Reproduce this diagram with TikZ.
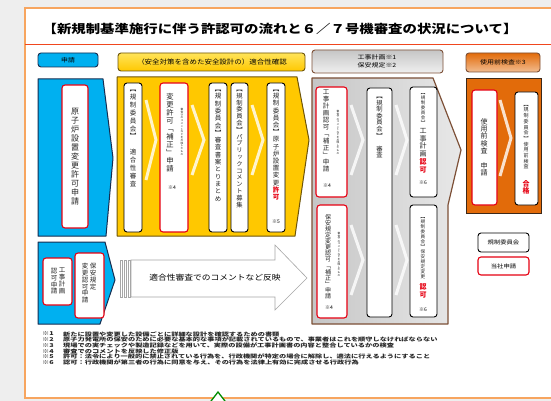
\documentclass[tikz,border=0pt]{standalone}
\usepackage{fontspec}
\usepackage{graphicx}
\setmainfont{Noto Sans CJK JP}
\newfontfamily\vfont[RawFeature=+vert]{Noto Sans CJK JP}
\definecolor{cblue}{RGB}{0,176,240}
\definecolor{cnavy}{RGB}{23,45,80}
\definecolor{cyel}{RGB}{255,200,0}
\definecolor{cyel2}{RGB}{255,228,90}
\definecolor{cyelb}{RGB}{110,85,10}
\definecolor{cbrown}{RGB}{125,80,55}
\definecolor{corange}{RGB}{226,107,10}
\definecolor{corb}{RGB}{60,40,25}
\definecolor{cframe}{RGB}{247,165,95}
\definecolor{ctitle}{RGB}{240,70,30}
\definecolor{vred}{RGB}{230,0,18}
\definecolor{cbg}{RGB}{238,238,238}
\def\vtend{\vtend}
\def\vtred{\vtred}
\def\vtfmt{}
\newcommand\vtext[2][1.1em]{\vbox{\baselineskip=#1\relax\lineskiplimit=-100pt\lineskip=0pt\vtA#2\vtend}}
\def\vtA#1{\ifx#1\vtend\else\ifx#1\vtred\def\vtfmt{\color{vred}\bfseries}\else\hbox to 1.2em{\hss\vtfmt#1\hss}\fi\expandafter\vtA\fi}
\newcommand\fs[1]{\fontsize{#1}{#1}\selectfont}
\newcommand\hs[2][1.15]{\scalebox{#1}[1]{#2}}
\begin{document}
\begin{tikzpicture}[x=1pt,y=-1pt,
  wbox/.style={draw=black, line width=0.9pt, fill=white, rounded corners=3pt},
  rbox/.style={draw=vred, line width=1.1pt, fill=white, rounded corners=3pt},
  vt/.style={inner sep=0pt, anchor=north, text=black!85},
  chev/.style={draw=white, line width=3pt, opacity=0.8, line join=miter},
  fn/.style={inner sep=0pt, anchor=west, font=\bfseries\fs{5.3}, text=black!85},
  hdr/.style={rounded corners=3pt, line width=0.9pt}]
\useasboundingbox (0,0) rectangle (551,401);
\clip (0,0) rectangle (551,401);
\fill[cbg] (0,0) rectangle (551,401);
\draw[cframe, fill=white, line width=1.5pt] (25,8) rectangle (580,398);
\draw[ctitle, line width=1pt] (25,45) -- (560,45);
\node[inner sep=0pt, font=\bfseries\fs{12}] (title) at (280,29) {\hs[1.2]{【新規制基準施行に伴う許認可の流れと６／７号機審査の状況について】}};

% headers
\draw[hdr, draw=cnavy, fill=cblue] (38,53) rectangle (98,67);
\node[font=\fs{6}, inner sep=0pt] (hA) at (68,60) {\hs{申請}};
\draw[hdr, draw=cyelb, top color=cyel2, bottom color=cyel] (118,53) rectangle (305,71);
\node[font=\fs{6.5}, inner sep=0pt] (hB) at (212,62) {\hs{（安全対策を含めた安全設計の）適合性確認}};
\draw[hdr, draw=cbrown, top color=gray!45, bottom color=gray!12] (312,50) rectangle (443,73);
\node[font=\fs{5.8}, inner sep=0pt] (hC1) at (377,57) {\hs[1.2]{工事計画※1}};
\node[font=\fs{5.8}, inner sep=0pt] (hC2) at (377,65) {\hs[1.2]{保安規定※2}};
\draw[hdr, draw=cbrown, top color=corange, bottom color=corange!45] (466,53) rectangle (540,72);
\node[font=\fs{5.8}, inner sep=0pt] (hD) at (503,62) {\hs[1.2]{使用前検査※3}};

% panels
\draw[draw=cnavy, fill=cblue, line width=1pt, line join=round] (38,79) -- (103,79) -- (113,158) -- (106,236) -- (38,236) -- cycle;
\draw[draw=cyelb, fill=cyel, line width=1pt, line join=round] (117,77) -- (297,77) -- (309,140) -- (295,236) -- (117,236) -- cycle;
\draw[draw=cbrown, left color=gray!45, right color=gray!18, line width=1.2pt, line join=round] (312,78) -- (433,78) -- (461,150) -- (448,205) -- (448,324) -- (312,324) -- cycle;
\draw[draw=corb, fill=corange, line width=1pt] (466,79) rectangle (541,213);
\draw[draw=cnavy, fill=cblue, line width=1pt, line join=round] (38,242) -- (105,242) -- (115,280) -- (100,324) -- (38,324) -- cycle;

% white chevrons
\draw[chev] (146,100) -- (156,140) -- (146,180);
\draw[chev] (192,105) -- (204,140) -- (192,175);
\draw[chev] (252,105) -- (263,140) -- (252,175);
\draw[chev] (351,105) -- (363,140) -- (351,175);
\draw[chev] (396,105) -- (407,140) -- (396,175);
\draw[chev] (351,225) -- (363,260) -- (351,295);
\draw[chev] (396,225) -- (407,260) -- (396,295);
\draw[chev] (500,100) -- (511,138) -- (500,176);

% boxes
\draw[rbox] (62,85) rectangle (88,228);
\draw[wbox] (124,83) rectangle (142,232);
\draw[rbox] (160,83) rectangle (188,232);
\draw[wbox] (209,83) rectangle (227,232);
\draw[wbox] (231,83) rectangle (248,232);
\draw[wbox] (267,83) rectangle (285,232);
\draw[rbox] (316,87) rectangle (347,197);
\draw[wbox] (367,88) rectangle (392,317);
\draw[wbox] (410,87) rectangle (437,197);
\draw[rbox] (317,205) rectangle (347,318);
\draw[wbox] (410,205) rectangle (437,317);
\draw[rbox] (472,90) rectangle (497,205);
\draw[wbox] (515,92) rectangle (538,205);
\draw[rbox] (43,258) rectangle (72,305);
\draw[rbox] (75,253) rectangle (104,318);

% vertical texts
\node[vt, font=\vfont\fs{8}] (t1) at (75,108) {\vtext[9pt]{原子炉設置変更許可申請}};
\node[vt, font=\vfont\fs{6.5}] (y1) at (133,90) {\vtext[7.9pt]{【規制委員会】　適合性審査}};
\node[vt, font=\vfont\fs{7.3}] (y2) at (170,93) {\vtext[8pt]{変更許可「補正」申請}};
\node[vt, font=\vfont\fs{2.7}] (y2s) at (182,108) {\vtext[2.8pt]{審査でのコメントなどを反映したもの}};
\node[font=\fs{5}, inner sep=0pt] (y2n) at (172,188) {※4};
\node[vt, font=\vfont\fs{6.5}] (y3) at (218,90) {\vtext[7.3pt]{【規制委員会】審査書案とりまとめ}};
\node[vt, font=\vfont\fs{6.3}] (y4) at (239.5,90) {\vtext[6.8pt]{【規制委員会】パブリックコメント募集}};
\node[vt, font=\vfont\fs{6.5}] (y5) at (276,90) {\vtext[7.2pt]{【規制委員会】原子炉設置変更\vtred 許可}};
\node[font=\fs{5}, inner sep=0pt] (y5n) at (276,222) {※5};

\node[vt, font=\vfont\fs{6.5}] (g1) at (326,90) {\vtext[7pt]{工事計画認可「補正」申請}};
\node[vt, font=\vfont\fs{2.7}] (g1s) at (338,110) {\vtext[2.6pt]{審査でのコメントなどを反映したもの}};
\node[font=\fs{5}, inner sep=0pt] (g1n) at (327,186) {※4};
\node[vt, font=\vfont\fs{6.3}] (g2) at (379.5,97) {\vtext[6.6pt]{【規制委員会】　審査}};
\node[vt, font=\vfont\fs{4.5}] (g3a) at (423,93) {\vtext[5pt]{【規制委員会】}};
\node[vt, font=\vfont\fs{7}] (g3b) at (423,128) {\vtext[7.8pt]{工事計画}};
\node[vt, font=\vfont\fs{7}] (g3c) at (423,159) {\vtext[7.5pt]{\vtred 認可}};
\node[font=\fs{5}, inner sep=0pt] (g3n) at (423,183) {※6};
\node[vt, font=\vfont\fs{6}] (g4) at (328,214) {\vtext[6.1pt]{保安規定変更認可「補正」申請}};
\node[vt, font=\vfont\fs{2.7}] (g4s) at (339,232) {\vtext[2.6pt]{審査でのコメントなどを反映したもの}};
\node[font=\fs{5}, inner sep=0pt] (g4n) at (329,308) {※4};
\node[vt, font=\vfont\fs{4.6}] (g5a) at (423,217) {\vtext[5pt]{【規制委員会】保安規定変更}};
\node[vt, font=\vfont\fs{7}] (g5b) at (423,284) {\vtext[7.5pt]{\vtred 認可}};
\node[font=\fs{5}, inner sep=0pt] (g5n) at (423,310) {※6};

\node[vt, font=\vfont\fs{7}] (o1) at (484,118) {\vtext[7.4pt]{使用前検査　申請}};
\node[vt, font=\vfont\fs{5}] (o2a) at (526,105) {\vtext[5.7pt]{【規制委員会】使用前検査}};
\node[vt, font=\vfont\fs{7}] (o2b) at (526,180) {\vtext[7.5pt]{\vtred 合格}};

\node[vt, font=\vfont\fs{6.5}] (b1r) at (62,268) {\vtext[6.8pt]{工事計画}};
\node[vt, font=\vfont\fs{6.5}] (b1l) at (54,268) {\vtext[6.8pt]{認可申請}};
\node[vt, font=\vfont\fs{6.5}] (b2r) at (93,263) {\vtext[6.8pt]{保安規定}};
\node[vt, font=\vfont\fs{6.5}] (b2l) at (85,263) {\vtext[6.8pt]{変更認可申請}};

% big arrow
\draw[draw=gray!70, fill=white, line width=0.6pt, line join=miter] (131,260) -- (275,260) -- (275,245) -- (307,278) -- (275,310) -- (275,297) -- (131,297) -- cycle;
\foreach \sx in {120,124,128} \draw[draw=gray!70, fill=white, line width=0.5pt] (\sx,260) rectangle (\sx+2,297);
\node[font=\fs{7.6}, inner sep=0pt] (arrtxt) at (215,278) {\hs{適合性審査でのコメントなど反映}};

% legend
\draw[wbox] (478,233) rectangle (529,252);
\node[font=\fs{5.5}, inner sep=0pt] (lg1) at (503.5,242.5) {\hs{規制委員会}};
\draw[rbox] (478,257) rectangle (529,275);
\node[font=\fs{5.5}, inner sep=0pt] (lg2) at (503.5,266) {\hs{当社申請}};

% footnotes
\foreach \n/\yy/\txt in {1/334/新たに設置や変更した設備ごとに詳細な設計を確認するための書類,
  2/339.7/原子力発電所の保安のために必要な基本的な事項が記載されているもので、事業者はこれを順守しなければならない,
  3/345.4/現場での実チェックや製造記録などを用いて、実際の設備が工事計画書の内容と整合しているかの検査,
  4/351.1/審査でのコメントを反映した修正版,
  5/356.8/許可：法令により一般的に禁止されている行為を、行政機関が特定の場合に解除し、適法に行えるようにすること,
  6/362.5/認可：行政機関が第三者の行為に同意を与え、その行為を法律上有効に完成させる行政行為}{
  \node[fn] (fm\n) at (42,\yy) {\hs[1.36]{※\n}};
  \node[fn] (ft\n) at (63,\yy) {\hs[1.36]{\txt}};
}
\draw[green!55!black, line width=1.3pt, fill=white] (208,405) -- (218,392) -- (228,405);
\end{tikzpicture}
\end{document}
